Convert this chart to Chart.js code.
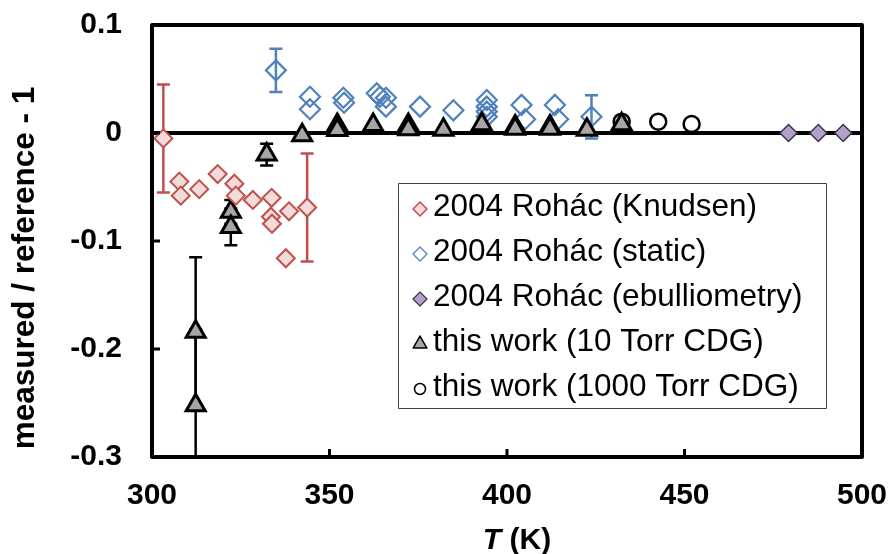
<!DOCTYPE html>
<html>
<head>
<meta charset="utf-8">
<script src="https://cdn.jsdelivr.net/npm/chart.js@4/dist/chart.umd.min.js"></script>
<style>
  html, body { margin: 0; padding: 0; background: #fff; }
  #wrap { position: relative; width: 892px; height: 554px; }
</style>
</head>
<body>
<div id="wrap"><canvas id="chart" width="892" height="554"></canvas></div>
<script>
// Vapour pressure deviations: measured / reference - 1 versus temperature T (K)

// 2004 Rohác (Knudsen)
const knudsenT   = [303.2, 307.7, 308.1, 313.3, 318.5, 323.2, 323.6, 328.4, 333.7, 333.5, 333.8, 338.6, 337.7, 343.7];
const knudsenDev = [-0.005, -0.045, -0.058, -0.052, -0.038, -0.047, -0.058, -0.062, -0.060, -0.0775, -0.084, -0.0725, -0.116, -0.069];
const knudsenErr = [0.05, 0, 0, 0, 0, 0, 0, 0, 0, 0, 0, 0, 0, 0.05];

// 2004 Rohác (static)
const staticT   = [334.9, 344.5, 344.5, 353.9, 354.1, 363.3, 364.2, 365.9, 365.9, 375.5, 384.9, 394.3, 394.3, 394.3, 394.3, 404.1, 405.1, 413.5, 414.4, 423.8];
const staticDev = [0.058, 0.0336, 0.022, 0.0327, 0.028, 0.0368, 0.0336, 0.0327, 0.0244, 0.0244, 0.021, 0.0306, 0.0244, 0.0198, 0.0151, 0.026, 0.0127, 0.026, 0.0127, 0.015];
const staticErr = [0.02, 0, 0, 0, 0, 0, 0, 0, 0, 0, 0, 0, 0, 0, 0, 0, 0, 0, 0, 0.02];

// 2004 Rohác (ebulliometry)
const ebullT   = [479.3, 487.7, 494.7];
const ebullDev = [0.0, 0.0, 0.0];

// this work (10 Torr CDG)
const torr10T   = [312.3, 312.3, 322.2, 322.2, 332.3, 342.3, 352.2, 352.2, 362.3, 372.2, 372.2, 382.1, 392.9, 402.3, 402.3, 412.1, 412.1, 422.5, 432.3];
const torr10Dev = [-0.184, -0.252, -0.073, -0.087, -0.020, -0.002, 0.0074, 0.0028, 0.0074, 0.0074, 0.0034, 0.003, 0.008, 0.006, 0.004, 0.006, 0.004, 0.003, 0.008];
const torr10Err = [0.069, 0.07, 0.011, 0.017, 0.01, 0, 0, 0, 0, 0, 0, 0, 0, 0, 0, 0, 0, 0, 0];

// this work (1000 Torr CDG)
const torr1000T   = [432.3, 442.6, 452.0];
const torr1000Dev = [0.0105, 0.0105, 0.0083];

// axis tick labels
const xTickLabels = ['300', '350', '400', '450', '500'];
const yTickLabels = ['-0.3', '-0.2', '-0.1', '0', '0.1'];

const seriesNames = [
  '2004 Rohác (Knudsen)',
  '2004 Rohác (static)',
  '2004 Rohác (ebulliometry)',
  'this work (10 Torr CDG)',
  'this work (1000 Torr CDG)'
];

const FONT = "'Liberation Sans', Arial, Helvetica, sans-serif";

function pts(xs, ys) { return xs.map((x, i) => ({ x: x, y: ys[i] })); }

const datasets = [
  { label: seriesNames[0], data: pts(knudsenT, knudsenDev), errors: knudsenErr, errColor: '#c0504d',
    pointStyle: 'rectRot', pointRadius: 9, pointBorderWidth: 2, borderColor: '#c0504d', backgroundColor: '#f2dcdb', order: 0 },
  { label: seriesNames[1], data: pts(staticT, staticDev), errors: staticErr, errColor: '#4f81bd',
    pointStyle: 'rectRot', pointRadius: 10, pointBorderWidth: 2.2, borderColor: '#4f81bd', backgroundColor: 'rgba(255,255,255,0)', order: 3 },
  { label: seriesNames[2], data: pts(ebullT, ebullDev),
    pointStyle: 'rectRot', pointRadius: 8.5, pointBorderWidth: 1.5, borderColor: '#3f3151', backgroundColor: '#b3a2c7', order: 3 },
  { label: seriesNames[3], data: pts(torr10T, torr10Dev), errors: torr10Err, errColor: '#000000',
    pointStyle: 'triangle', pointRadius: 11, pointBorderWidth: 3, borderColor: '#000000', backgroundColor: '#a6a6a6', order: 1 },
  { label: seriesNames[4], data: pts(torr1000T, torr1000Dev),
    pointStyle: 'circle', pointRadius: 8, pointBorderWidth: 2.5, borderColor: '#000000', backgroundColor: 'rgba(255,255,255,0)', order: 1 }
];

// Vertical error bars with caps, drawn under the markers
const errorBarPlugin = {
  id: 'errorBars',
  beforeDatasetsDraw(chart) {
    const { ctx, chartArea, scales } = chart;
    ctx.save();
    ctx.beginPath();
    ctx.rect(chartArea.left, chartArea.top, chartArea.right - chartArea.left, chartArea.bottom - chartArea.top);
    ctx.clip();
    chart.data.datasets.forEach(ds => {
      if (!ds.errors) return;
      ctx.strokeStyle = ds.errColor;
      ctx.lineWidth = 2.5;
      ds.data.forEach((p, i) => {
        const e = ds.errors[i];
        if (!e) return;
        const x = scales.x.getPixelForValue(p.x);
        const yTop = scales.y.getPixelForValue(p.y + e);
        const yBot = scales.y.getPixelForValue(p.y - e);
        ctx.beginPath();
        ctx.moveTo(x, yTop); ctx.lineTo(x, yBot);
        ctx.moveTo(x - 6.5, yTop); ctx.lineTo(x + 6.5, yTop);
        ctx.moveTo(x - 6.5, yBot); ctx.lineTo(x + 6.5, yBot);
        ctx.stroke();
      });
    });
    ctx.restore();
  }
};

// Plot frame, inward tick marks, axis titles and the boxed legend
const framePlugin = {
  id: 'frame',
  afterDatasetsDraw(chart) {
    const { ctx, chartArea: a, scales } = chart;
    ctx.save();
    ctx.strokeStyle = '#000';
    ctx.lineWidth = 4;
    ctx.lineJoin = 'round';
    ctx.strokeRect(a.left, a.top, a.right - a.left, a.bottom - a.top);

    ctx.lineWidth = 3;
    ctx.beginPath();
    scales.x.ticks.forEach(t => {
      const x = scales.x.getPixelForValue(t.value);
      ctx.moveTo(x, a.bottom); ctx.lineTo(x, a.bottom - 8);
    });
    scales.y.ticks.forEach(t => {
      const y = scales.y.getPixelForValue(t.value);
      ctx.moveTo(a.left, y); ctx.lineTo(a.left + 8, y);
    });
    ctx.stroke();

    // y axis title
    ctx.fillStyle = '#000';
    ctx.font = 'bold 31.5px ' + FONT;
    ctx.textAlign = 'center';
    ctx.textBaseline = 'middle';
    ctx.save();
    ctx.translate(25, (a.top + a.bottom) / 2 + 27);
    ctx.rotate(-Math.PI / 2);
    ctx.fillText('measured / reference - 1', 0, 0);
    ctx.restore();

    // x axis title: italic T followed by (K)
    ctx.textAlign = 'left';
    ctx.textBaseline = 'alphabetic';
    const tFont = 'italic bold 30px ' + FONT;
    const kFont = 'bold 30px ' + FONT;
    ctx.font = tFont;
    const wT = ctx.measureText('T').width;
    ctx.font = kFont;
    const wK = ctx.measureText(' (K)').width;
    const x0 = (a.left + a.right) / 2 + 10 - (wT + wK) / 2;
    const yb = 549;
    ctx.font = tFont;
    ctx.fillText('T', x0, yb);
    ctx.font = kFont;
    ctx.fillText(' (K)', x0 + wT, yb);

    // legend box
    const bx = 398, by = 183, bw = 428, bh = 225;
    ctx.fillStyle = '#fff';
    ctx.fillRect(bx, by, bw, bh);
    ctx.strokeStyle = '#404040';
    ctx.lineWidth = 1;
    ctx.strokeRect(bx + 0.5, by + 0.5, bw, bh);

    const legendMarker = [
      { pointStyle: 'rectRot', radius: 7, borderWidth: 1.5 },
      { pointStyle: 'rectRot', radius: 7, borderWidth: 1.2 },
      { pointStyle: 'rectRot', radius: 7, borderWidth: 1.2 },
      { pointStyle: 'triangle', radius: 8, borderWidth: 1.5 },
      { pointStyle: 'circle', radius: 5.5, borderWidth: 1.5 }
    ];
    ctx.font = '31.5px ' + FONT;
    ctx.textBaseline = 'middle';
    chart.data.datasets.forEach((ds, i) => {
      const cy = 207 + i * 45;
      ctx.save();
      ctx.fillStyle = ds.backgroundColor;
      ctx.strokeStyle = ds.borderColor;
      ctx.lineWidth = legendMarker[i].borderWidth;
      Chart.helpers.drawPoint(ctx, { pointStyle: legendMarker[i].pointStyle, radius: legendMarker[i].radius, rotation: 0, borderWidth: legendMarker[i].borderWidth }, 420, cy + 2);
      ctx.restore();
      ctx.fillStyle = '#000';
      ctx.fillText(ds.label, 433, cy);
    });
    ctx.restore();
  }
};

new Chart(document.getElementById('chart'), {
  type: 'scatter',
  data: { datasets: datasets },
  options: {
    responsive: false,
    animation: false,
    layout: { padding: { top: 25, right: 30, left: 0, bottom: 0 } },
    plugins: { legend: { display: false }, tooltip: { enabled: false } },
    scales: {
      x: {
        type: 'linear', min: 300, max: 500,
        afterFit(scale) { scale.height = 97; scale.paddingLeft = 0; scale.paddingRight = 0; },
        border: { display: false },
        grid: { display: false, drawTicks: false },
        ticks: {
          stepSize: 50, padding: 21, color: '#000', maxRotation: 0,
          font: { family: FONT, size: 30, weight: 'bold' },
          callback: v => xTickLabels[Math.round((v - 300) / 50)]
        }
      },
      y: {
        type: 'linear', min: -0.3, max: 0.1,
        afterFit(scale) { scale.width = 152; scale.paddingTop = 0; scale.paddingBottom = 0; },
        border: { display: false },
        grid: {
          drawTicks: false,
          lineWidth: 4,
          color: c => (c.tick && Math.abs(c.tick.value) < 1e-9) ? '#000' : 'rgba(0,0,0,0)'
        },
        ticks: {
          stepSize: 0.1, padding: 30, color: '#000',
          font: { family: FONT, size: 30, weight: 'bold' },
          callback: v => yTickLabels[Math.round((v + 0.3) * 10)]
        }
      }
    }
  },
  plugins: [errorBarPlugin, framePlugin]
});
</script>
</body>
</html>
